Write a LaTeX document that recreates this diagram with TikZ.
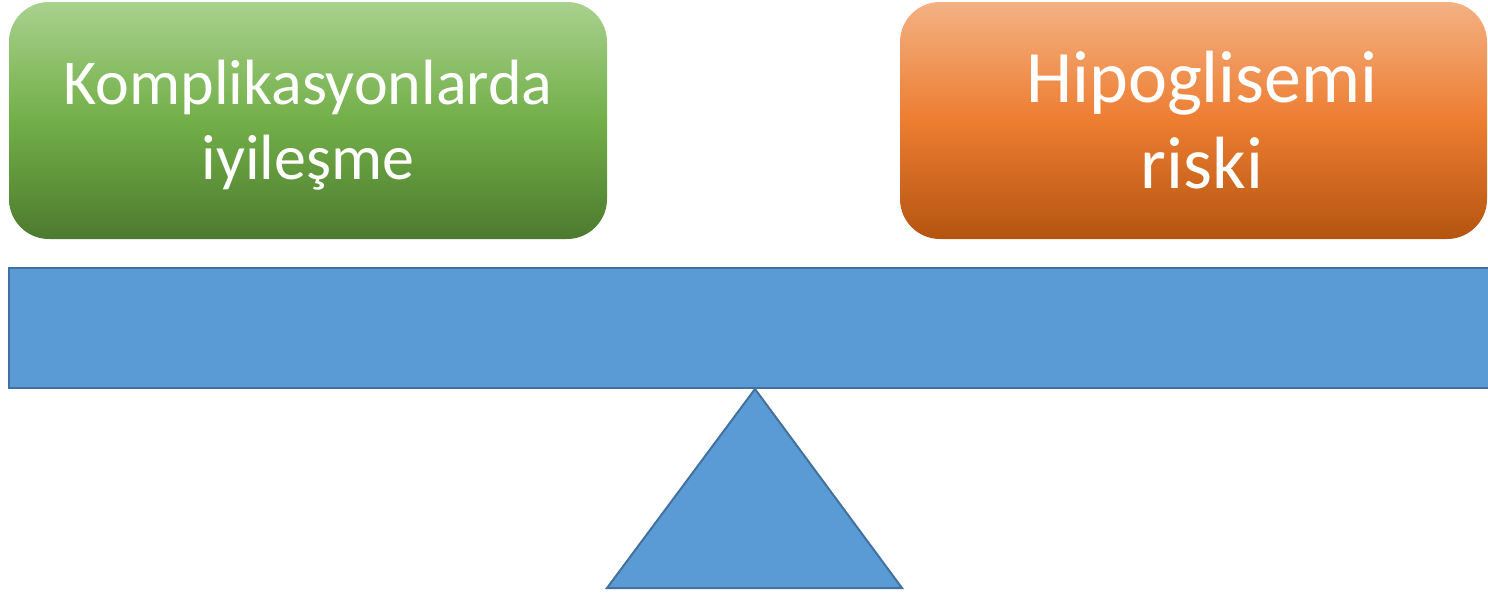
\documentclass[tikz,border=0pt]{standalone}
\usepackage{fontspec}
\setmainfont{Carlito}
\definecolor{gtop}{RGB}{169,209,142}
\definecolor{gmid}{RGB}{114,175,72}
\definecolor{gbot}{RGB}{76,122,46}
\definecolor{otop}{RGB}{244,177,131}
\definecolor{omid}{RGB}{237,125,49}
\definecolor{obot}{RGB}{180,84,16}
\definecolor{bfill}{RGB}{91,155,213}
\definecolor{bline}{RGB}{65,113,156}
\tikzset{
  box/.style={rounded corners=40pt, inner sep=0pt, outer sep=0pt, draw=none},
  greenbox/.style={box, top color=gtop, bottom color=gbot, middle color=gmid},
  orangebox/.style={box, top color=otop, bottom color=obot, middle color=omid},
  txt/.style={text=white, inner sep=0pt, anchor=base},
  gtxt/.style={txt, font=\fontsize{64}{77}\selectfont},
  otxt/.style={txt, font=\fontsize{74}{89}\selectfont},
  part/.style={fill=bfill, draw=bline, line width=2.5pt, line join=miter}
}
\begin{document}
\begin{tikzpicture}[x=1pt,y=-1pt]
\useasboundingbox (0,0) rectangle (1488,592);
\begin{scope}
\clip (0,0) rectangle (1488,592);
\node[greenbox, minimum width=598pt, minimum height=237pt] (gbox) at (308,120.5) {};
\node[orangebox, minimum width=587pt, minimum height=237pt] (obox) at (1193.5,120.5) {};
\node[gtxt] (k1) at (308,104) {Komplikasyonlarda};
\node[gtxt] (k2) at (308,179) {iyileşme};
\node[otxt] (h1) at (1202,102) {Hipoglisemi};
\node[otxt] (h2) at (1202,188) {riski};
\draw[part] (9,268) rectangle (1500,388);
\coordinate (apex) at (755,389);
\coordinate (bl) at (607,588);
\coordinate (br) at (902,588);
\draw[part, line width=2pt] (apex) -- (br) -- (bl) -- cycle;
\end{scope}
\end{tikzpicture}
\end{document}
